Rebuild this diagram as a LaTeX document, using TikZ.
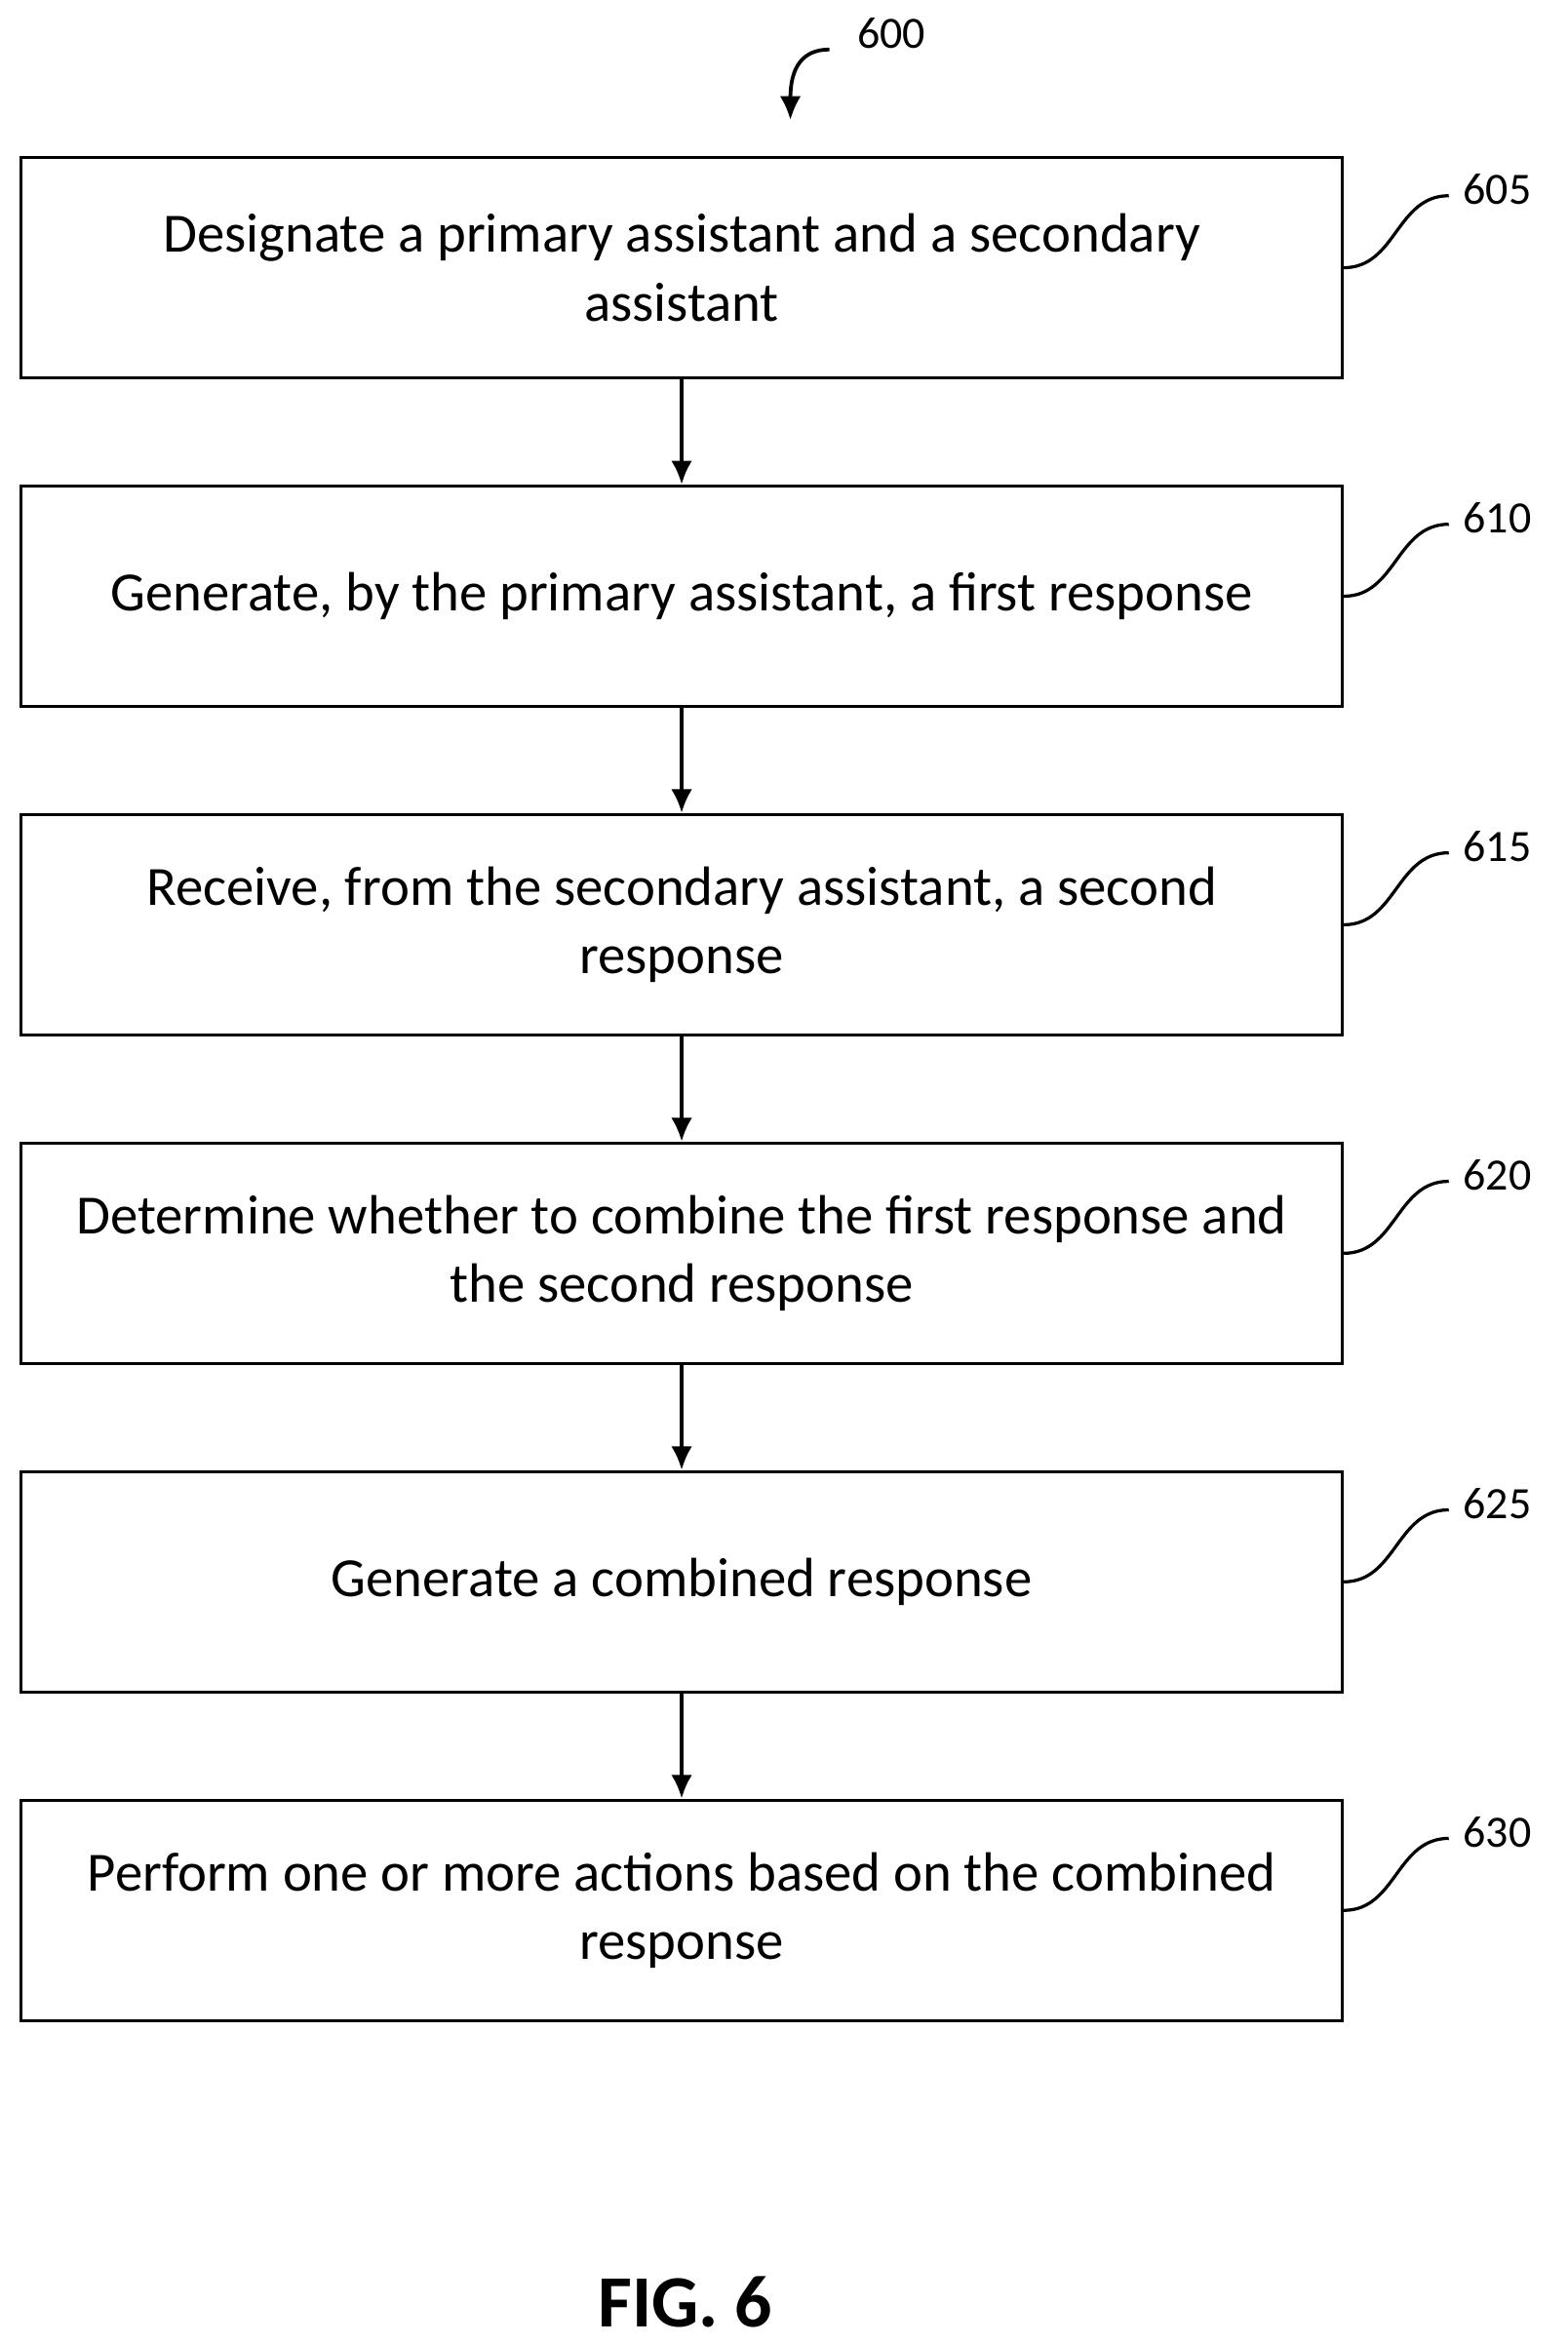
\documentclass[tikz,border=0pt]{standalone}
\usepackage{fontspec}
\setmainfont{Carlito}
\usetikzlibrary{positioning,arrows.meta}
\begin{document}
\begin{tikzpicture}
    [x=0.02cm,y=-0.02cm,thick,
    box/.style = {draw, line width=1.2pt, minimum width=17.62cm,
                   minimum height=2.94cm, align=center,
                   font=\fontsize{21}{26}\selectfont},
    ref/.style = {font=\fontsize{17}{20}\selectfont, anchor=west},
    flow/.style = {-{Latex[length=9pt,width=8pt]}, line width=1.4pt}]
    \useasboundingbox (0,0) rectangle (1045,1563);
    % steps
    \node[box] (s605) at (454.5,178.5) {Designate a primary assistant and a secondary\\assistant};
    \node[box,below=1.4cm of s605] (s610) {Generate, by the primary assistant, a first response};
    \node[box,below=1.4cm of s610] (s615) {Receive, from the secondary assistant, a second\\response};
    \node[box,below=1.4cm of s615] (s620) {Determine whether to combine the first response and\\the second response};
    \node[box,below=1.4cm of s620] (s625) {Generate a combined response};
    \node[box,below=1.4cm of s625] (s630) {Perform one or more actions based on the combined\\response};
    \draw[flow] (s605) -- (s610);
    \draw[flow] (s610) -- (s615);
    \draw[flow] (s615) -- (s620);
    \draw[flow] (s620) -- (s625);
    \draw[flow] (s625) -- (s630);
    % reference numerals
    \foreach \n in {605,610,615,620,625,630} {
        \coordinate (c\n) at ([shift={(70,-48)}]s\n.east);
        \draw[line width=1.2pt] (s\n.east) .. controls +(35,0) and +(-35,0) .. (c\n);
        \node[ref] (r\n) at ([shift={(3,-4)}]c\n) {\n};
    }
    \node[ref] (r600) at (565,22) {600};
    \coordinate (c600) at (553,33);
    \coordinate (a600) at (527,80);
    \draw[flow] (c600) .. controls (535,33) and (527,45) .. (a600);
    \node[font=\bfseries\fontsize{28}{32}\selectfont] (fig) at (457,1535) {FIG. 6};
\end{tikzpicture}
\end{document}
